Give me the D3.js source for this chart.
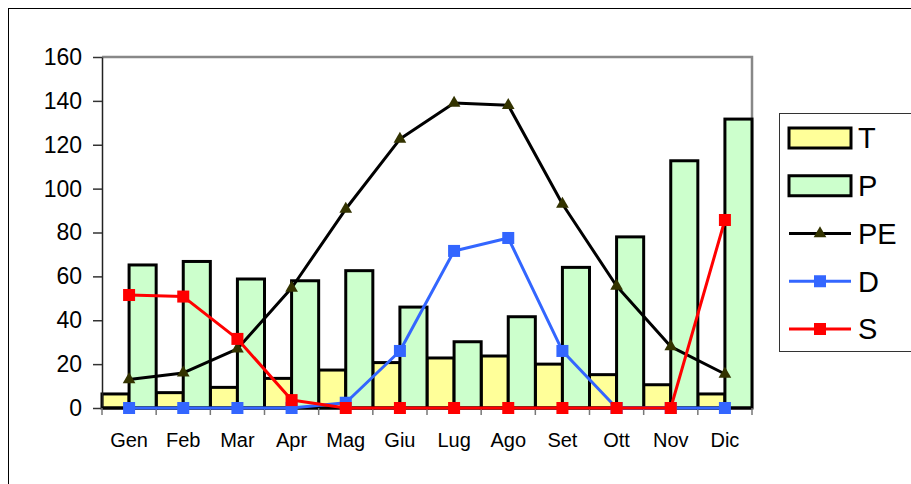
<!DOCTYPE html>
<html>
<head>
<meta charset="utf-8">
<script src="https://cdn.jsdelivr.net/npm/d3@7"></script>
<style>
  html, body { margin: 0; padding: 0; background: #fff; }
  svg { display: block; font-family: "Liberation Sans", Arial, sans-serif; }
</style>
</head>
<body>
<svg id="chart" width="911" height="484"></svg>
<script>
// Monthly climate balance: temperature (T), precipitation (P),
// potential evapotranspiration (PE), deficit (D) and surplus (S).
const months = ["Gen", "Feb", "Mar", "Apr", "Mag", "Giu", "Lug", "Ago", "Set", "Ott", "Nov", "Dic"];
const T  = [6.4, 7, 9.4, 13.5, 17.3, 20.7, 22.8, 23.7, 20, 15.2, 10.6, 6.4];
const P  = [65.2, 66.8, 58.8, 58, 62.6, 46, 30.2, 41.6, 64.1, 78, 112.7, 131.7];
const PE = [13, 16, 27, 54.7, 90.7, 122.6, 139, 138, 93, 55.6, 28, 15.5];
const D  = [0, 0, 0, 0, 2.4, 26, 71.6, 77.5, 26, 0, 0, 0];
const S  = [51.5, 50.8, 31.5, 3.6, 0, 0, 0, 0, 0, 0, 0, 85.7];
const yTicks = [0, 20, 40, 60, 80, 100, 120, 140, 160];
const legendItems = ["T", "P", "PE", "D", "S"];

const svg = d3.select("#chart");

// chart area frame
svg.append("rect")
  .attr("x", 8.5).attr("y", 8.5)
  .attr("width", 1000).attr("height", 1000)
  .attr("fill", "#fff").attr("stroke", "#000").attr("stroke-width", 1);

const plot = { left: 102, right: 752, top: 57, bottom: 408 };

const x = d3.scaleBand().domain(months).range([plot.left, plot.right]).padding(0);
const y = d3.scaleLinear().domain([0, 160]).range([plot.bottom, plot.top]);
const bw = x.bandwidth();

// plot area border (top and right in grey)
svg.append("path")
  .attr("d", `M${plot.left},${plot.top}H${plot.right}V${plot.bottom}`)
  .attr("fill", "none").attr("stroke", "#888").attr("stroke-width", 2.5);

// bars: T on the left half of each month, P on the right half
svg.append("g").selectAll("rect").data(months).join("rect")
  .attr("x", m => x(m))
  .attr("y", (m, i) => y(T[i]))
  .attr("width", bw / 2)
  .attr("height", (m, i) => y(0) - y(T[i]))
  .attr("fill", "#FFFF99").attr("stroke", "#000").attr("stroke-width", 3);

svg.append("g").selectAll("rect").data(months).join("rect")
  .attr("x", m => x(m) + bw / 2)
  .attr("y", (m, i) => y(P[i]))
  .attr("width", bw / 2)
  .attr("height", (m, i) => y(0) - y(P[i]))
  .attr("fill", "#CCFFCC").attr("stroke", "#000").attr("stroke-width", 3);

// y axis
const yAxis = d3.axisLeft(y).tickValues(yTicks).tickSize(9).tickPadding(11).tickSizeOuter(0);
const gy = svg.append("g").attr("transform", `translate(${plot.left},0)`).call(yAxis);
gy.select(".domain").attr("stroke", "#222").attr("stroke-width", 1.5);
gy.selectAll(".tick line").attr("stroke", "#333").attr("stroke-width", 1.5);
gy.selectAll(".tick text")
  .attr("font-size", 23).attr("fill", "#000")
  .attr("font-family", "'Liberation Sans', Arial, sans-serif");

// x axis: ticks on month boundaries
const gx = svg.append("g").attr("transform", `translate(0,${plot.bottom})`);
gx.append("line")
  .attr("x1", plot.left).attr("x2", plot.right)
  .attr("stroke", "#000").attr("stroke-width", 3);
gx.selectAll("line.tk").data(months.concat(["end"])).join("line")
  .attr("class", "tk")
  .attr("x1", (m, i) => i < months.length ? x(m) : plot.right)
  .attr("x2", (m, i) => i < months.length ? x(m) : plot.right)
  .attr("y1", 0).attr("y2", 7)
  .attr("stroke", "#777").attr("stroke-width", 1.5);
gx.selectAll("text").data(months).join("text")
  .attr("x", m => x(m) + bw / 2)
  .attr("y", 39)
  .attr("text-anchor", "middle")
  .attr("font-size", 20)
  .attr("fill", "#000")
  .text(m => m);

const cx = m => x(m) + bw / 2;

function drawSeries(values, color, width, marker) {
  const line = d3.line().x((v, i) => cx(months[i])).y(v => y(v));
  svg.append("path").datum(values)
    .attr("d", line)
    .attr("fill", "none").attr("stroke", color).attr("stroke-width", width)
    .attr("stroke-linejoin", "round");
  const g = svg.append("g");
  values.forEach((v, i) => marker(g, cx(months[i]), y(v)));
}

const triangle = (g, px, py) => g.append("path")
  .attr("d", d3.symbol().type(d3.symbolTriangle).size(70)())
  .attr("transform", `translate(${px},${py})`)
  .attr("fill", "#333300");

const square = color => (g, px, py) => g.append("rect")
  .attr("x", px - 6).attr("y", py - 6)
  .attr("width", 12).attr("height", 12)
  .attr("fill", color);

drawSeries(PE, "#000", 3, triangle);
drawSeries(D, "#3366FF", 3, square("#3366FF"));
drawSeries(S, "#FF0000", 3, square("#FF0000"));

// legend
const lg = svg.append("g");
lg.append("rect")
  .attr("x", 779.5).attr("y", 113.5)
  .attr("width", 200).attr("height", 238)
  .attr("fill", "#fff").attr("stroke", "#333").attr("stroke-width", 1);

const legendY = d3.scalePoint().domain(legendItems).range([138, 329]);
const swX0 = 789, swX1 = 851;

legendItems.forEach(k => {
  const ly = legendY(k);
  if (k === "T" || k === "P") {
    lg.append("rect")
      .attr("x", swX0).attr("y", ly - 10)
      .attr("width", swX1 - swX0).attr("height", 20)
      .attr("fill", k === "T" ? "#FFFF99" : "#CCFFCC")
      .attr("stroke", "#000").attr("stroke-width", 3);
  } else {
    const color = k === "PE" ? "#000" : k === "D" ? "#3366FF" : "#FF0000";
    lg.append("line")
      .attr("x1", swX0).attr("x2", swX1)
      .attr("y1", ly).attr("y2", ly)
      .attr("stroke", color).attr("stroke-width", 3);
    const mx = (swX0 + swX1) / 2;
    if (k === "PE") triangle(lg, mx, ly);
    else square(color)(lg, mx, ly);
  }
  lg.append("text")
    .attr("x", 858).attr("y", ly)
    .attr("dy", "0.36em")
    .attr("font-size", 29)
    .attr("fill", "#000")
    .text(k);
});
</script>
</body>
</html>
